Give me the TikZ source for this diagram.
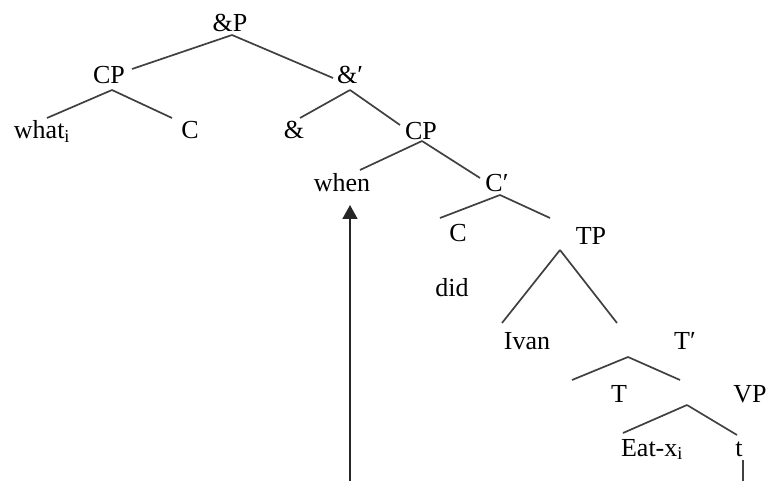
\documentclass[tikz,border=0pt]{standalone}
\usepackage{fontspec}
\setmainfont{Liberation Serif}
\usetikzlibrary{arrows.meta}
\begin{document}
\begin{tikzpicture}[x=1pt,y=-1pt,
  lbl/.style={anchor=base,inner sep=1pt,font=\fontsize{26}{30}\selectfont},
  branch/.style={draw=black!75,line width=1.7pt},
  mover/.style={draw=black!85,line width=1.7pt,-{Triangle[width=15pt,length=14pt]}}]
\useasboundingbox (0,0) rectangle (766,481);
% nodes
\node[lbl] (andP) at (230,32) {\&P};
\node[lbl] (CPa) at (109,84) {CP};
\node[lbl] (andbar) at (350,84) {\&′};
\node[lbl] (what) at (42,139) {what\textsubscript{i}};
\node[lbl] (Ca) at (190,139) {C};
\node[lbl] (amp) at (294,139) {\&};
\node[lbl] (CPb) at (421,140) {CP};
\node[lbl] (when) at (342,192) {when};
\node[lbl] (Cbar) at (497,192) {C′};
\node[lbl] (Cb) at (458,242) {C};
\node[lbl] (TP) at (591,244) {TP};
\node[lbl] (did) at (452,296) {did};
\node[lbl] (Ivan) at (527,349) {Ivan};
\node[lbl] (Tbar) at (685,349) {T′};
\node[lbl] (T) at (619,402) {T};
\node[lbl] (VP) at (750,402) {VP};
\node[lbl] (Eat) at (652,456) {Eat-x\textsubscript{i}};
\node[lbl] (t) at (739,456) {t};
% branch points and branch ends
\coordinate (andP-d) at (232,35);
\coordinate (CPa-u) at (132,69);
\coordinate (andbar-u) at (333,78);
\coordinate (CPa-d) at (112,90);
\coordinate (what-u) at (47,118);
\coordinate (Ca-u) at (172,118);
\coordinate (andbar-d) at (350,90);
\coordinate (amp-u) at (300,118);
\coordinate (CPb-u) at (400,125);
\coordinate (CPb-d) at (422,141);
\coordinate (when-u) at (360,170);
\coordinate (Cbar-u) at (480,178);
\coordinate (Cbar-d) at (500,195);
\coordinate (Cb-u) at (440,218);
\coordinate (TP-u) at (550,218);
\coordinate (TP-d) at (560,250);
\coordinate (Ivan-u) at (502,323);
\coordinate (Tbar-u) at (617,323);
\coordinate (Tbar-d) at (628,357);
\coordinate (T-u) at (572,380);
\coordinate (VP-u) at (680,380);
\coordinate (VP-d) at (687,405);
\coordinate (Eat-u) at (623,433);
\coordinate (t-u) at (737,435);
\coordinate (t-d) at (743,460);
\coordinate (t-foot) at (743,481);
\coordinate (when-d) at (350,205);
\coordinate (move-foot) at (350,481);
% connectors
\draw[branch] (andP-d) -- (CPa-u);
\draw[branch] (andP-d) -- (andbar-u);
\draw[branch] (CPa-d) -- (what-u);
\draw[branch] (CPa-d) -- (Ca-u);
\draw[branch] (andbar-d) -- (amp-u);
\draw[branch] (andbar-d) -- (CPb-u);
\draw[branch] (CPb-d) -- (when-u);
\draw[branch] (CPb-d) -- (Cbar-u);
\draw[branch] (Cbar-d) -- (Cb-u);
\draw[branch] (Cbar-d) -- (TP-u);
\draw[branch] (TP-d) -- (Ivan-u);
\draw[branch] (TP-d) -- (Tbar-u);
\draw[branch] (Tbar-d) -- (T-u);
\draw[branch] (Tbar-d) -- (VP-u);
\draw[branch] (VP-d) -- (Eat-u);
\draw[branch] (VP-d) -- (t-u);
\draw[branch] (t-d) -- (t-foot);
\draw[mover] (move-foot) -- (when-d);
\end{tikzpicture}
\end{document}
